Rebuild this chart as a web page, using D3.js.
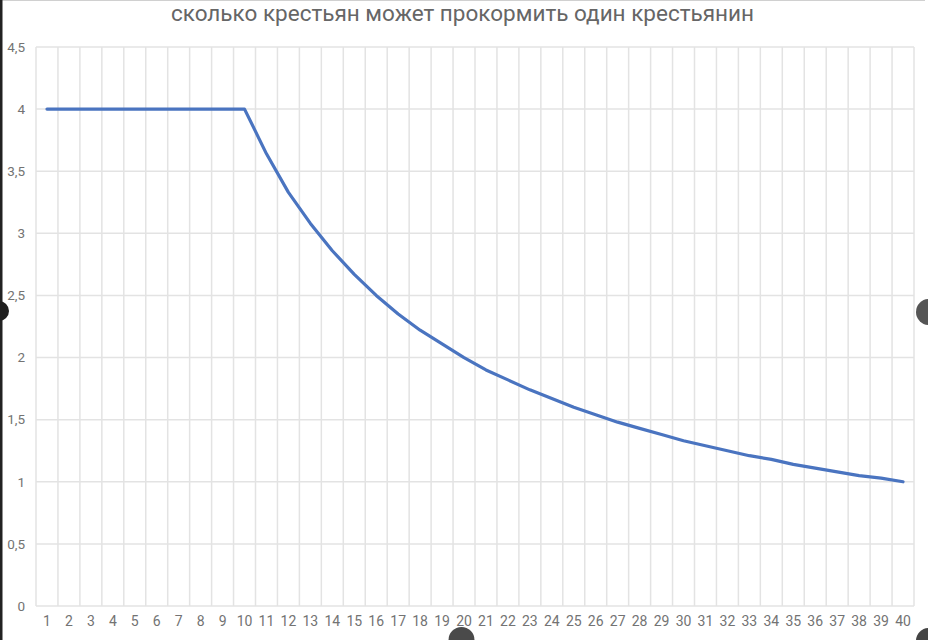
<!DOCTYPE html>
<html>
<head>
<meta charset="utf-8">
<script src="https://cdn.jsdelivr.net/npm/d3@7"></script>
<style>
  html, body { margin: 0; padding: 0; background: #fff; }
  svg { display: block; font-family: Roboto, "Noto Sans", sans-serif; }
</style>
</head>
<body>
<svg id="chart"></svg>
<script>
// data
var titleText = "сколько крестьян может прокормить один крестьянин";
var years = d3.range(1, 41).map(String);
var fedPeasants = [
  4, 4, 4, 4, 4, 4, 4, 4, 4, 4,
  3.64, 3.33, 3.08, 2.86, 2.67, 2.5, 2.35, 2.22, 2.11, 2.0,
  1.9, 1.82, 1.74, 1.67, 1.6, 1.54, 1.48, 1.43, 1.38, 1.33,
  1.29, 1.25, 1.21, 1.18, 1.14, 1.11, 1.08, 1.05, 1.03, 1.0
];
var yTicks = [0, 0.5, 1, 1.5, 2, 2.5, 3, 3.5, 4, 4.5];

var W = 928, H = 640;
var margin = {top: 47, right: 14, bottom: 34, left: 36},
    width = W - margin.left - margin.right,
    height = H - margin.top - margin.bottom;

var svg = d3.select("#chart")
  .attr("width", W)
  .attr("height", H);

var g = svg.append("g")
  .attr("transform", "translate(" + margin.left + "," + margin.top + ")");

var x = d3.scaleBand()
  .domain(years)
  .range([0, width])
  .padding(0);

var y = d3.scaleLinear()
  .domain([0, 4.5])
  .range([height, 0]);

// vertical grid at category boundaries
var bounds = years.map(function(d) { return x(d); }).concat([width]);
g.selectAll(".vgrid")
  .data(bounds)
  .enter()
  .append("line")
  .attr("class", "vgrid")
  .attr("x1", function(d) { return d; })
  .attr("x2", function(d) { return d; })
  .attr("y1", 0)
  .attr("y2", height)
  .attr("stroke", "#e3e3e3")
  .attr("stroke-width", 1.5);

// horizontal grid
g.selectAll(".hgrid")
  .data(yTicks)
  .enter()
  .append("line")
  .attr("class", "hgrid")
  .attr("x1", 0)
  .attr("x2", width)
  .attr("y1", function(d) { return y(d); })
  .attr("y2", function(d) { return y(d); })
  .attr("stroke", "#e3e3e3")
  .attr("stroke-width", 1.5);

// Y axis labels
var yAxis = g.append("g")
  .call(d3.axisLeft(y).tickValues(yTicks).tickSize(0).tickPadding(11)
    .tickFormat(function(d) { return String(d).replace(".", ","); }));
yAxis.select(".domain").remove();
yAxis.selectAll("text")
  .attr("fill", "#737373")
  .attr("font-size", "13.5px")
  .attr("font-family", "Roboto, sans-serif");

// X axis labels
var xAxis = g.append("g")
  .attr("transform", "translate(0," + height + ")")
  .call(d3.axisBottom(x).tickSize(0).tickPadding(10));
xAxis.select(".domain").remove();
xAxis.selectAll("text")
  .attr("fill", "#737373")
  .attr("font-size", "14px")
  .attr("font-family", "Roboto, sans-serif");

// the line
var line = d3.line()
  .x(function(d, i) { return x(years[i]) + x.bandwidth() / 2; })
  .y(function(d) { return y(d); });

g.append("path")
  .datum(fedPeasants)
  .attr("fill", "none")
  .attr("stroke", "#4a74c0")
  .attr("stroke-width", 3.2)
  .attr("stroke-linejoin", "round")
  .attr("stroke-linecap", "round")
  .attr("d", line);

// title
svg.append("text")
  .attr("x", 462.5)
  .attr("y", 21)
  .attr("text-anchor", "middle")
  .attr("font-size", "22.5px")
  .attr("fill", "#666")
  .text(titleText);

// screenshot frame bits: top rule, left dark edge, handles
svg.append("line")
  .attr("x1", 0).attr("x2", 925)
  .attr("y1", 0.5).attr("y2", 0.5)
  .attr("stroke", "#d0d0d0");
svg.append("rect")
  .attr("x", 0).attr("y", 0)
  .attr("width", 2.5).attr("height", H)
  .attr("fill", "#222");

var handles = [
  {cx: -1, cy: 311, r: 10, c: "#1e1e1e"},
  {cx: 929, cy: 312, r: 13, c: "#555"},
  {cx: 461.5, cy: 640, r: 13, c: "#4a4a4a"},
  {cx: 929, cy: 641, r: 13, c: "#444"}
];
svg.selectAll(".handle")
  .data(handles)
  .enter()
  .append("circle")
  .attr("class", "handle")
  .attr("cx", function(d) { return d.cx; })
  .attr("cy", function(d) { return d.cy; })
  .attr("r", function(d) { return d.r; })
  .attr("fill", function(d) { return d.c; });
</script>
</body>
</html>
